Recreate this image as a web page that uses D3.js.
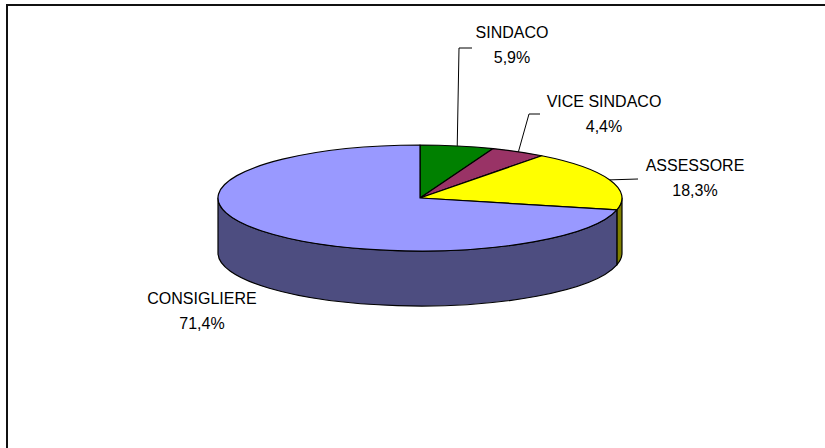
<!DOCTYPE html>
<meta charset="utf-8">
<style>
body { margin: 0; background: #fff; }
text {
  font-family: "Liberation Sans", Arial, sans-serif;
  font-size: 16px;
  fill: #000;
}
.slice path { stroke: #000; stroke-width: 1.2px; stroke-linejoin: round; }
.leader { fill: none; stroke: #000; stroke-width: 1px; }
</style>
<svg></svg>
<script src="https://d3js.org/d3.v7.min.js"></script>
<script>

// chart data
var categories = ["SINDACO", "VICE SINDACO", "ASSESSORE", "CONSIGLIERE"];
var values = [5.9, 4.4, 18.3, 71.4];
var percentLabels = ["5,9%", "4,4%", "18,3%", "71,4%"];

var topColors = ["#008000", "#993366", "#ffff00", "#9999ff"];
var sideColors = ["#004000", "#4d1a33", "#808000", "#4d4d80"];

var width = 825, height = 448;
var svg = d3.select("svg").attr("width", width).attr("height", height);

// frame (top + left only, the rest is cut off)
svg.append("path")
  .attr("d", "M7," + height + "V5H" + width)
  .attr("fill", "none")
  .attr("stroke", "#111")
  .attr("stroke-width", 2);

// pie geometry
var cx = 420, cy = 198, rx = 202, ry = 53, depth = 55;

var topColor = d3.scaleOrdinal().domain(categories).range(topColors);
var sideColor = d3.scaleOrdinal().domain(categories).range(sideColors);

var pie = d3.pie().sort(null).value(function(d) { return d.value; });
var arcs = pie(categories.map(function(c, i) { return {name: c, value: values[i], pct: percentLabels[i]}; }));

function px(a) { return cx + rx * Math.sin(a); }
function py(a, dz) { return cy - ry * Math.cos(a) + (dz || 0); }

// top face of a slice, elliptical
function topPath(d) {
  var large = (d.endAngle - d.startAngle) > Math.PI ? 1 : 0;
  return "M" + cx + "," + cy +
    "L" + px(d.startAngle) + "," + py(d.startAngle) +
    "A" + rx + "," + ry + " 0 " + large + " 1 " + px(d.endAngle) + "," + py(d.endAngle) + "Z";
}

// outer wall, only the front half (90deg .. 270deg) is visible
function sidePath(d) {
  var s = Math.max(d.startAngle, Math.PI / 2),
      e = Math.min(d.endAngle, 3 * Math.PI / 2);
  if (e <= s) return null;
  return "M" + px(s) + "," + py(s) +
    "A" + rx + "," + ry + " 0 0 1 " + px(e) + "," + py(e) +
    "L" + px(e) + "," + py(e, depth) +
    "A" + rx + "," + ry + " 0 0 0 " + px(s) + "," + py(s, depth) + "Z";
}

var g = svg.append("g").attr("class", "slice");

g.selectAll("path.side")
  .data(arcs.filter(function(d) { return sidePath(d) !== null; }))
  .enter().append("path")
    .attr("class", "side")
    .attr("d", sidePath)
    .attr("fill", function(d) { return sideColor(d.data.name); });

g.selectAll("path.top")
  .data(arcs)
  .enter().append("path")
    .attr("class", "top")
    .attr("d", topPath)
    .attr("fill", function(d) { return topColor(d.data.name); });

// label placement, offsets from the pie centre (first baseline, centred text)
var labelLayout = [
  {dx: 92,   dy: -160, leader: [[39, -150], [52, -150]]},
  {dx: 184,  dy: -91,  leader: [[109, -84], [120, -84]]},
  {dx: 275,  dy: -27,  leader: [[218, -19]]},
  {dx: -218, dy: 106,  leader: null}
];

arcs.forEach(function(d, i) {
  var lay = labelLayout[i];
  var mid = (d.startAngle + d.endAngle) / 2;
  if (lay.leader) {
    var pts = [[px(mid), py(mid)]].concat(lay.leader.map(function(p) { return [cx + p[0], cy + p[1]]; }));
    svg.append("path")
      .attr("class", "leader")
      .attr("d", d3.line()(pts));
  }
  var t = svg.append("text")
    .attr("text-anchor", "middle")
    .attr("x", cx + lay.dx)
    .attr("y", cy + lay.dy);
  t.append("tspan").attr("x", cx + lay.dx).text(d.data.name);
  t.append("tspan").attr("x", cx + lay.dx).attr("dy", 25).text(d.data.pct);
});

</script>
